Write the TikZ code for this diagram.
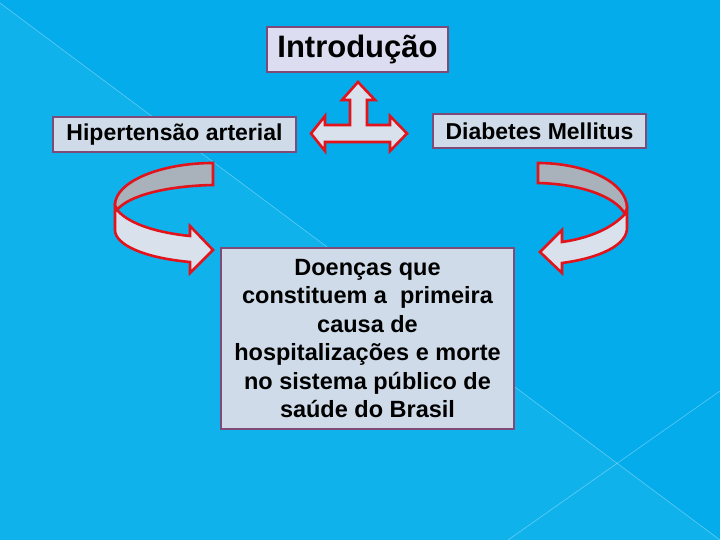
\documentclass[tikz,border=0pt]{standalone}
\usepackage{fontspec}
\setmainfont{Liberation Sans}
\usepackage{tikz}
\definecolor{fundo}{HTML}{04ACEC}
\definecolor{fundoclaro}{HTML}{10B2EC}
\definecolor{caixa}{HTML}{CFDBE8}
\definecolor{caixaintro}{HTML}{DCDDF0}
\definecolor{borda}{HTML}{7E4A78}
\definecolor{vermelho}{HTML}{E2131B}
\definecolor{seta}{HTML}{D9E1EC}
\definecolor{sombra}{HTML}{A9B1BA}

\begin{document}
\begin{tikzpicture}[x=1pt, y=-1pt,
    caixa/.style = {draw=borda, line width=1.2pt, fill=caixa, inner sep=0pt, font=\bfseries},
    bloco/.style = {draw=vermelho, line width=2.6pt, line join=miter, fill=seta}]
            % fundo
            \useasboundingbox (0,0) rectangle (720,540);
            \fill[fundo] (0,0) rectangle (720,540);
            \fill[fundoclaro] (0,3) -- (720,540) -- (0,540) -- cycle;
            \draw[white, opacity=0.35, line width=0.6pt] (0,3) -- (720,540);
            \draw[white, opacity=0.35, line width=0.6pt] (508,540) -- (720,391);
            % caixas
            \node[caixa, fill=caixaintro, minimum width=181pt, minimum height=45pt,
                font=\bfseries\fontsize{31}{36}\selectfont] (intro) at (357.5,49.5) {Introdução};
            \node[caixa, minimum width=243pt, minimum height=35pt,
                font=\bfseries\fontsize{23}{27}\selectfont] (hip) at (174.5,134.5) {Hipertensão arterial};
            \node[caixa, minimum width=213pt, minimum height=34pt,
                font=\bfseries\fontsize{23}{27}\selectfont] (dm) at (539.5,131) {Diabetes Mellitus};
            \node[caixa, minimum width=293pt, minimum height=181pt, align=center,
                font=\bfseries\fontsize{23.5}{28.5}\selectfont] (doencas) at (367.5,338.5)
                {Doenças que\\constituem a~ primeira\\causa de\\hospitalizações e morte\\no sistema público de\\saúde do Brasil};
            % seta de tres pontas
            \draw[bloco] (358,82) -- (375,100) -- (367,100) -- (367,125) -- (390,125) -- (390,116)
                -- (407,133.5) -- (390,151) -- (390,142) -- (325,142) -- (325,151) -- (311,133.5)
                -- (325,116) -- (325,125) -- (350,125) -- (350,100) -- (342,100) -- cycle;
            % seta curva esquerda
            \draw[bloco, fill=sombra] (213,163) -- (213,185) .. controls (165,186) and (128,196) .. (117,210)
                -- (115,205) .. controls (115,182) and (160,163) .. (213,163) -- cycle;
            \draw[bloco] (117,210) .. controls (130,225) and (160,233) .. (190,236) -- (190,226)
                -- (213,250) -- (190,273) -- (190,262) .. controls (145,258) and (115,245) .. (115,230)
                -- (115,207) -- cycle;
            % seta curva direita
            \draw[bloco, fill=sombra] (538,163) -- (538,183) .. controls (580,184) and (615,196) .. (625,214)
                -- (627,208) .. controls (627,182) and (585,163) .. (538,163) -- cycle;
            \draw[bloco] (625,214) .. controls (612,228) and (590,238) .. (562,242) -- (562,230)
                -- (540,252) -- (562,273) -- (562,263) .. controls (600,258) and (627,245) .. (627,228)
                -- (627,210) -- cycle;
        \end{tikzpicture}
\end{document}
